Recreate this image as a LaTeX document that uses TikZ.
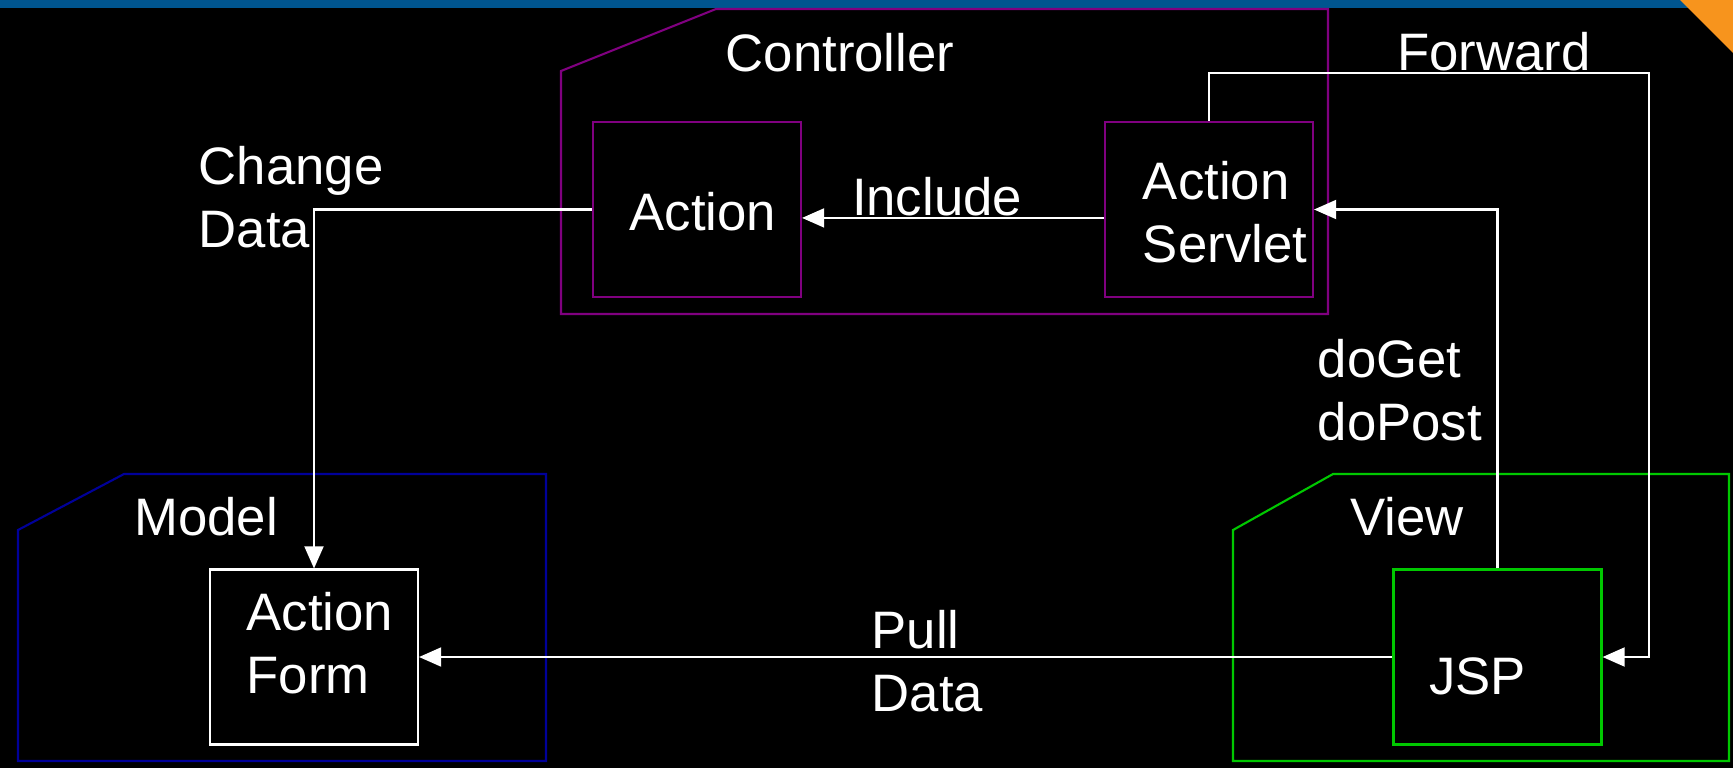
\documentclass[tikz,border=0pt]{standalone}
\usepackage{fontspec}
\setmainfont{Liberation Sans}
\usetikzlibrary{arrows.meta}
\definecolor{barblue}{HTML}{00558F}
\definecolor{cornerorange}{HTML}{F7941D}
\definecolor{ctrlpurple}{HTML}{800080}
\definecolor{modelblue}{HTML}{000099}
\definecolor{viewgreen}{HTML}{00C800}

\begin{document}
\begin{tikzpicture}[
    font=\fontsize{15}{18}\selectfont,
    every node/.style={text=white},
    part/.style={line width=0.6pt},
    comp/.style={draw, line width=0.6pt, minimum width=2.08cm, minimum height=1.75cm, inner sep=0pt},
    flow/.style={draw=white, line width=0.6pt, -{Triangle[length=6.3pt,width=5.4pt]}},
    tag/.style={align=left, inner sep=0pt}
]
    \fill[black] (0,0) rectangle (17.33,-7.68);
    \fill[barblue] (0,0) rectangle (17.33,-0.08);
    \fill[cornerorange] (16.80,0) -- (17.33,0) -- (17.33,-0.53) -- cycle;
    
    \draw[part, draw=ctrlpurple] (5.61,-0.71) -- (7.16,-0.09) -- (13.28,-0.09) -- (13.28,-3.14) -- (5.61,-3.14) -- cycle;
    \draw[part, draw=modelblue] (0.18,-5.30) -- (1.24,-4.74) -- (5.46,-4.74) -- (5.46,-7.61) -- (0.18,-7.61) -- cycle;
    \draw[part, draw=viewgreen] (12.33,-5.30) -- (13.33,-4.74) -- (17.29,-4.74) -- (17.29,-7.61) -- (12.33,-7.61) -- cycle;
    
    \node at (8.40,-0.53) (ctrl) {Controller};
    \node at (2.06,-5.17) (model) {Model};
    \node at (14.07,-5.17) (view) {View};
    
    \node[comp, draw=ctrlpurple] (act) at (6.97,-2.095) {};
    \node[comp, draw=ctrlpurple] (servlet) at (12.09,-2.095) {};
    \node[comp, draw=white] (form) at (3.14,-6.57) {};
    \node[comp, draw=viewgreen] (jsp) at (14.975,-6.57) {};
    
    \node[tag] (acttxt) at ([shift={(0.06,-0.025)}]act) {Action};
    \node[tag] (servlettxt) at ([shift={(0.16,-0.025)}]servlet) {Action\\Servlet};
    \node[tag] (formtxt) at ([shift={(0.06,0.135)}]form) {Action\\Form};
    \node[tag] (jsptxt) at ([shift={(-0.20,-0.19)}]jsp) {JSP};
    
    \coordinate (fwdturn) at (16.49,-0.73);
    
    \draw[flow] ([yshift=-2.4pt]servlet.west) -- ([yshift=-2.4pt]act.east);
    \draw[flow] (servlet.north) |- (fwdturn) |- (jsp.east);
    \draw[flow] (jsp.north) |- (servlet.east);
    \draw[flow] (act.west) -| (form.north);
    \draw[flow] (jsp.west) -- (form.east);
    
    \node[tag] (include) at (9.37,-1.97) {Include};
    \node[tag] (forward) at (14.94,-0.52) {Forward};
    \node[tag, anchor=west] (doget) at (13.17,-3.90) {doGet\\doPost};
    \node[tag, anchor=west] (change) at (1.98,-1.975) {Change\\Data};
    \node[tag, anchor=west] (pull) at (8.71,-6.61) {Pull\\Data};
    
\end{tikzpicture}
\end{document}
